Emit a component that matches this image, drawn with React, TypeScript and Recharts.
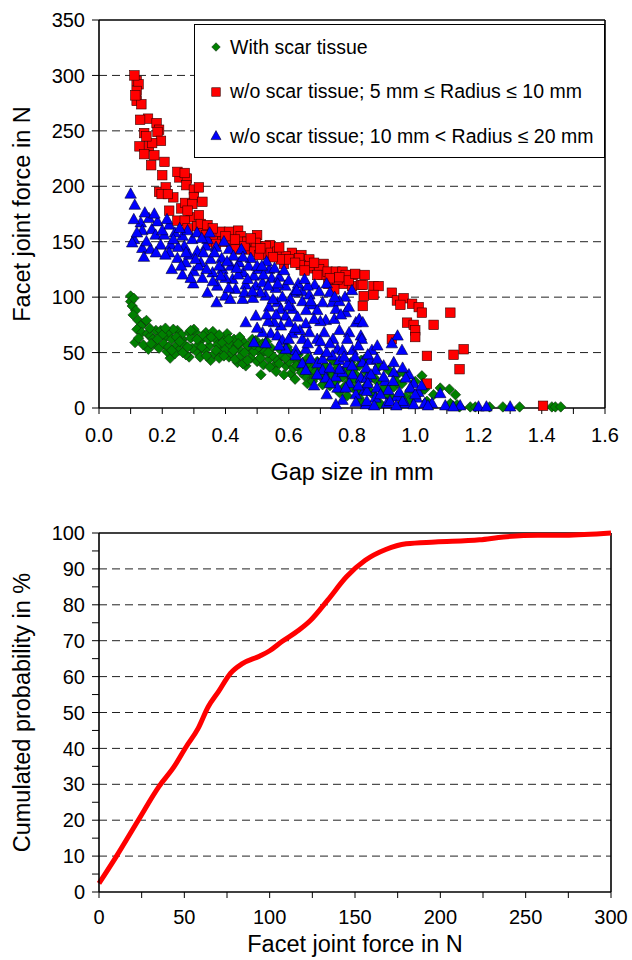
import React from "react";
import {
  ScatterChart,
  Scatter,
  LineChart,
  Line,
  XAxis,
  YAxis,
  CartesianGrid,
  ReferenceLine,
  Legend,
  Label,
} from "recharts";

const FONT = '"Liberation Sans", Arial, Helvetica, sans-serif';
const GREEN = "#008000";
const RED = "#ff0000";
const BLUE = "#0000ff";

// ---- top chart: facet joint force vs gap size ----
const gapTicks = [0, 0.1, 0.2, 0.3, 0.4, 0.5, 0.6, 0.7, 0.8, 0.9, 1.0, 1.1, 1.2, 1.3, 1.4, 1.5, 1.6];
const forceTicks = [0, 50, 100, 150, 200, 250, 300, 350];
const forceGrid = [50, 100, 150, 200, 250, 300];

const withScar = [
  [0.1, 101], [0.1, 96], [0.105, 92], [0.11, 99], [0.116, 88], [0.108, 84], [0.124, 79], [0.142, 77],
  [0.132, 74], [0.15, 79], [0.114, 59], [0.12, 71], [0.135, 68], [0.153, 67], [0.163, 65], [0.156, 53],
  [0.174, 58], [0.18, 70], [0.195, 70], [0.211, 64], [0.19, 54], [0.225, 45], [0.222, 68], [0.248, 70],
  [0.264, 62], [0.243, 56], [0.253, 52], [0.285, 68], [0.285, 46], [0.306, 68], [0.322, 61], [0.311, 50],
  [0.338, 68], [0.348, 56], [0.353, 43], [0.369, 62], [0.385, 52], [0.396, 64], [0.411, 46], [0.427, 62],
  [0.443, 53], [0.438, 41], [0.459, 59], [0.475, 52], [0.464, 38], [0.496, 61], [0.512, 49], [0.517, 58],
  [0.538, 44], [0.512, 30], [0.554, 38], [0.575, 52], [0.591, 38], [0.607, 31], [0.622, 43], [0.638, 35],
  [0.659, 22], [0.665, 30], [0.696, 35], [0.728, 32], [0.749, 24], [0.796, 41], [0.823, 38], [0.839, 44],
  [0.791, 24], [0.812, 30], [0.823, 9], [0.775, 19], [0.707, 21], [0.681, 27],
  [0.17, 62], [0.2, 66], [0.205, 58], [0.215, 51], [0.23, 62], [0.235, 71], [0.24, 49], [0.26, 66],
  [0.27, 57], [0.275, 48], [0.29, 63], [0.295, 54], [0.3, 71], [0.315, 57], [0.32, 46], [0.33, 65],
  [0.335, 52], [0.345, 62], [0.36, 69], [0.365, 49], [0.375, 57], [0.38, 45], [0.39, 59], [0.4, 53],
  [0.405, 67], [0.415, 57], [0.42, 49], [0.43, 44], [0.435, 56], [0.445, 64], [0.45, 47], [0.455, 40],
  [0.47, 56], [0.48, 45], [0.485, 62], [0.49, 51], [0.5, 42], [0.505, 55], [0.52, 39], [0.525, 51],
  [0.53, 60], [0.545, 54], [0.55, 47], [0.56, 33], [0.565, 43], [0.58, 47], [0.585, 30], [0.595, 55],
  [0.6, 42], [0.615, 36], [0.62, 26], [0.63, 48], [0.645, 41], [0.65, 29], [0.66, 45], [0.67, 37],
  [0.675, 24], [0.69, 42], [0.7, 29], [0.715, 38], [0.72, 25], [0.735, 44], [0.74, 30], [0.755, 36],
  [0.76, 14], [0.77, 28], [0.78, 34], [0.785, 11], [0.8, 19], [0.805, 35], [0.815, 15], [0.83, 27],
  [0.835, 4], [0.845, 33], [0.85, 21],
  [0.125, 63], [0.14, 57], [0.16, 72], [0.165, 58], [0.185, 62], [0.21, 72], [0.22, 55], [0.23, 52],
  [0.245, 64], [0.255, 60], [0.265, 50], [0.28, 55], [0.29, 70], [0.31, 62], [0.325, 55], [0.34, 47],
  [0.355, 64], [0.37, 52], [0.38, 66], [0.395, 47], [0.41, 62], [0.425, 52], [0.44, 58], [0.46, 50],
  [0.47, 43], [0.49, 57], [0.51, 45], [0.535, 50], [0.54, 37], [0.57, 40], [0.59, 45], [0.605, 50],
  [0.625, 38], [0.64, 32], [0.655, 39], [0.685, 33], [0.71, 30], [0.73, 20], [0.75, 40], [0.79, 30],
  [0.81, 26], [0.86, 14], [0.88, 24], [0.91, 12], [0.94, 29], [0.97, 10], [1.0, 24], [1.03, 17],
  [0.829, 43], [0.868, 28], [0.847, 20], [0.868, 12], [0.884, 37], [0.889, 4], [0.9, 18], [0.916, 34],
  [0.926, 9], [0.932, 19], [0.942, 23], [0.953, 3], [0.958, 22], [0.963, 32], [0.984, 16], [0.984, 7],
  [1.011, 13], [1.021, 29], [1.037, 6], [1.058, 12], [1.079, 18], [1.108, 17], [1.111, 4], [1.127, 12],
  [1.132, 3], [1.14, 1], [1.174, 1], [1.19, 1], [1.235, 1], [1.277, 1], [1.33, 1], [1.432, 1], [1.443, 1],
  [1.46, 1],
];

const smallRadius = [
  [0.119, 295], [0.125, 292], [0.119, 286], [0.119, 277], [0.134, 274], [0.155, 261], [0.182, 257],
  [0.19, 251], [0.185, 249], [0.196, 241], [0.143, 248], [0.128, 236], [0.158, 236], [0.168, 239],
  [0.143, 229], [0.165, 219], [0.207, 222], [0.254, 208], [0.278, 207],
  [0.112, 300], [0.115, 282], [0.13, 260], [0.15, 245], [0.175, 228], [0.2, 210], [0.235, 190],
  [0.26, 180], [0.29, 172], [0.31, 164], [0.33, 158], [0.35, 150], [0.375, 155], [0.42, 146],
  [0.44, 160], [0.475, 144], [0.5, 156], [0.52, 139], [0.54, 147], [0.585, 130], [0.61, 140],
  [0.64, 138], [0.67, 126], [0.71, 130], [0.725, 112], [0.77, 112], [0.8, 110],
  [0.248, 213], [0.271, 212], [0.19, 195], [0.211, 199], [0.198, 193], [0.218, 193], [0.276, 201],
  [0.3, 197], [0.316, 199], [0.3, 190], [0.327, 186], [0.272, 185], [0.295, 184], [0.28, 178],
  [0.222, 178], [0.248, 169], [0.271, 169], [0.28, 162], [0.316, 174], [0.322, 166], [0.343, 165],
  [0.338, 156], [0.359, 155], [0.385, 159], [0.411, 159], [0.39, 150], [0.417, 150], [0.448, 155],
  [0.448, 150], [0.469, 150], [0.496, 149], [0.527, 146], [0.432, 143], [0.464, 143], [0.49, 141],
  [0.506, 138], [0.543, 140], [0.564, 141], [0.591, 137], [0.575, 134], [0.601, 134], [0.633, 135],
  [0.665, 134], [0.638, 129], [0.665, 128], [0.696, 125], [0.707, 120], [0.723, 123], [0.749, 123],
  [0.77, 123], [0.802, 120], [0.744, 116], [0.754, 116], [0.78, 120], [0.828, 111], [0.744, 107],
  [0.36, 162], [0.37, 148], [0.4, 155], [0.43, 152], [0.46, 146], [0.48, 153], [0.51, 144], [0.55, 136],
  [0.57, 145], [0.62, 131], [0.65, 124], [0.68, 131], [0.69, 120], [0.73, 117], [0.76, 118], [0.79, 115],
  [0.81, 121], [0.84, 120],
  [0.834, 111], [0.868, 110], [0.884, 110], [0.837, 101], [0.868, 102], [0.834, 92], [0.926, 104],
  [0.942, 97], [0.963, 99], [0.953, 93], [0.99, 94], [1.011, 91], [1.021, 86], [1.111, 86], [1.058, 75],
  [0.974, 77], [0.995, 75], [1.0, 70], [1.0, 64], [0.926, 62], [1.037, 47], [1.121, 48], [1.153, 53],
  [1.14, 35], [1.037, 22], [1.404, 2],
];

const largeRadius = [
  [0.1, 193], [0.113, 183], [0.132, 167], [0.158, 171], [0.137, 160], [0.167, 161], [0.111, 152],
  [0.105, 149], [0.137, 144], [0.142, 136], [0.163, 143], [0.179, 156], [0.195, 147], [0.222, 165],
  [0.206, 156], [0.227, 147], [0.222, 140], [0.23, 125], [0.248, 135], [0.264, 155], [0.27, 146],
  [0.274, 131], [0.264, 120], [0.295, 152], [0.3, 123], [0.298, 112], [0.311, 141], [0.322, 131],
  [0.338, 146], [0.327, 117], [0.343, 152], [0.353, 134], [0.343, 104], [0.359, 122], [0.374, 110],
  [0.388, 135], [0.39, 125], [0.399, 101], [0.372, 95], [0.411, 143], [0.417, 128], [0.422, 116],
  [0.432, 107], [0.443, 131], [0.456, 122], [0.464, 111], [0.454, 98], [0.473, 128], [0.49, 119],
  [0.496, 110], [0.487, 99], [0.506, 125], [0.517, 113], [0.538, 125], [0.546, 117], [0.559, 108],
  [0.527, 101], [0.538, 91], [0.564, 95], [0.589, 110], [0.575, 89], [0.59, 83], [0.612, 89],
  [0.617, 104], [0.643, 105], [0.643, 96], [0.665, 102], [0.682, 111], [0.696, 105], [0.707, 95],
  [0.738, 95], [0.778, 100], [0.749, 89], [0.78, 86], [0.717, 79], [0.744, 80], [0.654, 76],
  [0.628, 82], [0.601, 77], [0.575, 74], [0.554, 77], [0.543, 67], [0.517, 68], [0.496, 83],
  [0.464, 77], [0.49, 59], [0.527, 58], [0.564, 65], [0.58, 61], [0.612, 67], [0.643, 62], [0.665, 68],
  [0.712, 68], [0.591, 53], [0.622, 52], [0.654, 53], [0.696, 52], [0.754, 53], [0.77, 52], [0.802, 52],
  [0.812, 77], [0.828, 65], [0.791, 68], [0.823, 80], [0.622, 47], [0.643, 40], [0.67, 44], [0.691, 40],
  [0.707, 44], [0.738, 47], [0.76, 43], [0.786, 40], [0.833, 41], [0.654, 34], [0.707, 34], [0.717, 27],
  [0.749, 28], [0.77, 32], [0.802, 30], [0.791, 22], [0.828, 27], [0.754, 18], [0.78, 18], [0.812, 12],
  [0.839, 16], [0.77, 7], [0.749, 3], [0.844, 3], [0.812, 5],
  [0.834, 77], [0.831, 62], [0.863, 52], [0.944, 65], [0.926, 58], [0.958, 52], [0.858, 43], [0.932, 41],
  [0.874, 34], [0.932, 32], [0.847, 27], [0.905, 24], [0.995, 22], [0.879, 18], [0.984, 18], [0.847, 15],
  [1.079, 13], [0.874, 9], [0.942, 10], [1.005, 9], [0.847, 6], [0.91, 4], [0.968, 4], [1.03, 4],
  [0.995, 3], [1.053, 4], [1.095, 2], [1.142, 2], [1.2, 1], [1.225, 1], [1.3, 1],
  [0.12, 158], [0.15, 150], [0.18, 140], [0.185, 168], [0.2, 160], [0.21, 138], [0.24, 158], [0.25, 145],
  [0.26, 128], [0.28, 160], [0.285, 138], [0.29, 117], [0.31, 158], [0.315, 128], [0.33, 140], [0.35, 158],
  [0.36, 114], [0.37, 145], [0.38, 128], [0.395, 150], [0.4, 117], [0.41, 108], [0.425, 137], [0.44, 120],
  [0.45, 143], [0.46, 104], [0.48, 135], [0.5, 128], [0.51, 104], [0.52, 120], [0.53, 132], [0.555, 126],
  [0.57, 118], [0.58, 100], [0.6, 115], [0.63, 112], [0.66, 110], [0.675, 93], [0.69, 88], [0.72, 112],
  [0.73, 104], [0.76, 96], [0.79, 91], [0.8, 106],
  [0.11, 170], [0.145, 176], [0.175, 175], [0.215, 170], [0.235, 152], [0.255, 162], [0.275, 140],
  [0.305, 134], [0.325, 153], [0.34, 125], [0.365, 140], [0.385, 119], [0.405, 132], [0.415, 98],
  [0.435, 126], [0.455, 136], [0.47, 116], [0.485, 105], [0.515, 128], [0.535, 110], [0.55, 98],
  [0.565, 112], [0.585, 124], [0.605, 98], [0.625, 106], [0.65, 116], [0.655, 88], [0.67, 96], [0.7, 78],
  [0.745, 100], [0.765, 84], [0.535, 78], [0.57, 56], [0.6, 62], [0.635, 70], [0.66, 58], [0.69, 62],
  [0.72, 50], [0.74, 62], [0.775, 46], [0.82, 56], [0.845, 36], [0.88, 56], [0.9, 38], [0.915, 16],
  [0.93, 24], [0.96, 6], [0.98, 30], [1.01, 14],
  [0.5, 72], [0.53, 84], [0.56, 84], [0.6, 92], [0.62, 72], [0.68, 80], [0.7, 60], [0.73, 58], [0.76, 70],
  [0.785, 62], [0.81, 46], [0.85, 48], [0.86, 30], [0.88, 44], [0.89, 12], [0.9, 28], [0.92, 6], [0.95, 14],
  [0.96, 36], [0.97, 27], [1.0, 12], [1.02, 20], [1.04, 2], [0.72, 12], [0.73, 22], [0.76, 35], [0.69, 30],
  [0.68, 20], [0.73, 36], [0.8, 38], [0.82, 20], [0.85, 22], [0.87, 2], [0.94, 2], [1.12, 1],
];

const legendRows = [
  { label: "With scar tissue", kind: "diamond" },
  { label: "w/o scar tissue; 5 mm \u2264 Radius \u2264 10 mm", kind: "square" },
  { label: "w/o scar tissue; 10 mm < Radius \u2264 20 mm", kind: "triangle" },
];

// ---- bottom chart: cumulated probability ----
const cumForce = [0, 10, 23, 35, 44, 51, 58, 64, 70, 77, 84, 94, 100, 107, 117, 124, 134, 145, 156, 168, 180, 197, 223, 237, 257, 273, 300];
const cumProb = [2.4, 9.8, 20, 29.3, 34.9, 40.4, 45.5, 51.6, 55.8, 60.9, 63.6, 65.7, 67.2, 69.7, 72.9, 75.7, 81.3, 87.8, 92.4, 95.4, 97.0, 97.5, 98.1, 98.9, 99.4, 99.4, 100];
const cumForceTicks = [0, 25, 50, 75, 100, 125, 150, 175, 200, 225, 250, 275, 300];
const probTicks = [0, 5, 10, 15, 20, 25, 30, 35, 40, 45, 50, 55, 60, 65, 70, 75, 80, 85, 90, 95, 100];
const probGrid = [10, 20, 30, 40, 50, 60, 70, 80, 90];

const toPts = (a: number[][]) => a.map(([x, y]) => ({ x, y }));
const cumData = cumForce.map((f, i) => ({ force: f, prob: cumProb[i] }));

const tickStyle = { fontSize: 20, fill: "#000", fontFamily: FONT };
const axisStroke = { stroke: "#000", strokeWidth: 1.6 };

function marker(kind: string, cx: number, cy: number, s: number) {
  if (kind === "diamond") {
    const r = s / 2;
    return <polygon points={`${cx},${cy - r} ${cx + r},${cy} ${cx},${cy + r} ${cx - r},${cy}`} fill={GREEN} stroke="#102810" strokeWidth={0.6} />;
  }
  if (kind === "square") {
    const r = s / 2;
    return <rect x={cx - r} y={cy - r} width={s} height={s} fill={RED} stroke="#300" strokeWidth={0.6} />;
  }
  const h = s * 0.9;
  return <polygon points={`${cx},${cy - h * 0.6} ${cx + s / 2},${cy + h * 0.4} ${cx - s / 2},${cy + h * 0.4}`} fill={BLUE} stroke="#000030" strokeWidth={0.6} />;
}

const Diamond = (p: any) => (p.cx == null ? null : marker("diamond", p.cx, p.cy, 10.5));
const Square = (p: any) => (p.cx == null ? null : marker("square", p.cx, p.cy, 9.5));
const Triangle = (p: any) => (p.cx == null ? null : marker("triangle", p.cx, p.cy, 11.5));

function ScatterLegend() {
  return (
    <div style={{ width: 411, height: 134, boxSizing: "border-box", border: "1px solid #000", background: "#fff", fontFamily: FONT, fontSize: 19.5, color: "#000" }}>
      {legendRows.map((r) => (
        <div key={r.label} style={{ height: 44.5, display: "flex", alignItems: "center" }}>
          <svg width={35} height={16} style={{ flex: "none" }}>
            {marker(r.kind, 21, 8, r.kind === "triangle" ? 10 : 8.5)}
          </svg>
          <span style={{ whiteSpace: "nowrap" }}>{r.label}</span>
        </div>
      ))}
    </div>
  );
}

const gapFmt = (v: number) => (Math.round(v * 10) % 2 === 0 ? v.toFixed(1) : "");
const probFmt = (v: number) => (v % 10 === 0 ? String(v) : "");

const yTitle = (text: string) => (props: any) => {
  const vb = props.viewBox || {};
  const cy = vb.y + vb.height / 2;
  return (
    <text x={0} y={0} transform={`translate(30,${cy}) rotate(-90)`} textAnchor="middle" fontSize={23.5} fontFamily={FONT} fill="#000">
      {text}
    </text>
  );
};

const xTitle = (text: string, baseline: number) => (props: any) => {
  const vb = props.viewBox || {};
  return (
    <text x={vb.x + vb.width / 2} y={baseline} textAnchor="middle" fontSize={23.5} fontFamily={FONT} fill="#000">
      {text}
    </text>
  );
};

export default function App() {
  return (
    <div style={{ position: "absolute", left: 0, top: 0, width: 632, height: 960, background: "#fff" }}>
      <div style={{ position: "absolute", left: 0, top: 0 }}>
        <ScatterChart width={632} height={490} margin={{ top: 20, right: 27, bottom: 22, left: 39 }}>
          <CartesianGrid vertical={false} stroke="#222" strokeDasharray="8 5" horizontalValues={forceGrid} />
          <XAxis type="number" dataKey="x" domain={[0, 1.6]} ticks={gapTicks} tickFormatter={gapFmt} interval={0}
            height={60} tick={tickStyle} tickSize={6} tickMargin={14} axisLine={axisStroke} tickLine={{ stroke: "#000" }}>
            <Label content={xTitle("Gap size in mm", 480)} />
          </XAxis>
          <YAxis type="number" dataKey="y" domain={[0, 350]} ticks={forceTicks} interval={0} width={60}
            tick={tickStyle} tickSize={7} tickMargin={7} axisLine={axisStroke} tickLine={{ stroke: "#000" }}>
            <Label content={yTitle("Facet joint force in N")} />
          </YAxis>
          <ReferenceLine y={350} stroke="#000" strokeWidth={1.6} />
          <ReferenceLine x={1.6} stroke="#000" strokeWidth={1.6} />
          <Scatter name="With scar tissue" data={toPts(withScar)} shape={Diamond} isAnimationActive={false} />
          <Scatter name="w/o scar tissue; 5 mm ≤ Radius ≤ 10 mm" data={toPts(smallRadius)} shape={Square} isAnimationActive={false} />
          <Scatter name="w/o scar tissue; 10 mm < Radius ≤ 20 mm" data={toPts(largeRadius)} shape={Triangle} isAnimationActive={false} />
          <Legend layout="vertical" align="center" verticalAlign="middle" content={<ScatterLegend />}
            wrapperStyle={{ position: "absolute", left: 194, top: 24, width: 411, height: 134 }} />
        </ScatterChart>
      </div>
      <div style={{ position: "absolute", left: 0, top: 490 }}>
        <LineChart width={632} height={470} data={cumData} margin={{ top: 43, right: 21, bottom: 18, left: 39 }}>
          <CartesianGrid vertical={false} stroke="#222" strokeDasharray="8 5" horizontalValues={probGrid} />
          <XAxis type="number" dataKey="force" domain={[0, 300]} ticks={cumForceTicks} interval={0}
            tickFormatter={(v: number) => (v % 50 === 0 ? String(v) : "")}
            height={50} tick={tickStyle} tickSize={6} tickMargin={12} axisLine={axisStroke} tickLine={{ stroke: "#000" }}>
            <Label content={xTitle("Facet joint force in N", 462)} />
          </XAxis>
          <YAxis type="number" domain={[0, 100]} ticks={probTicks} interval={0} tickFormatter={probFmt} width={60}
            tick={tickStyle} tickSize={7} tickMargin={7} axisLine={axisStroke} tickLine={{ stroke: "#000" }}>
            <Label content={yTitle("Cumulated probability in %")} />
          </YAxis>
          <ReferenceLine y={100} stroke="#000" strokeWidth={1.6} />
          <ReferenceLine x={300} stroke="#000" strokeWidth={1.6} />
          <Line type="monotone" dataKey="prob" stroke={RED} strokeWidth={5} dot={false} isAnimationActive={false} />
        </LineChart>
      </div>
    </div>
  );
}
